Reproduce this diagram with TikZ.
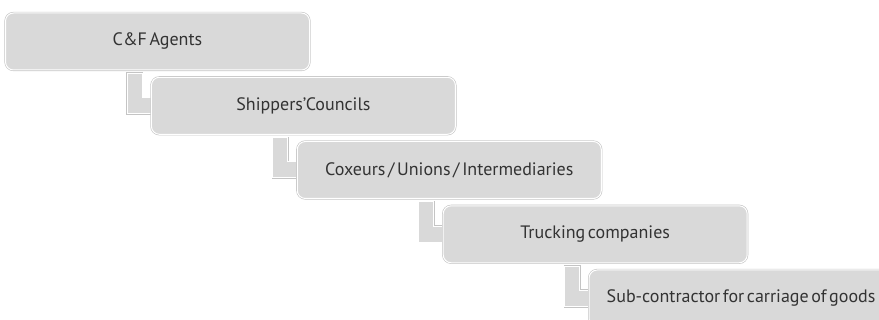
\documentclass[tikz,border=0pt]{standalone}
\usepackage{fontspec}
\setmainfont{PT Sans}[WordSpace=0.55]
\usetikzlibrary{calc,backgrounds}
\definecolor{boxfill}{HTML}{D9D9D9}
\definecolor{boxedge}{HTML}{C4C4C4}
\definecolor{txt}{HTML}{333333}
\tikzset{
  stepbox/.style={rounded corners=8pt, fill=boxfill, draw=white, line width=1pt,
    preaction={draw=boxedge, line width=2.2pt},
    minimum width=304pt, minimum height=57pt, inner sep=0pt,
    text=txt, font=\fontsize{18}{20}\selectfont},
  conn/.style={fill=boxfill, draw=white, line width=1pt,
    preaction={draw=boxedge, line width=2.2pt}}
}
\begin{document}
\begin{tikzpicture}[x=1pt,y=-1pt]
\useasboundingbox (0,0) rectangle (879,320);
\clip (0,0) rectangle (879,320);
\node[stepbox] (a) at (157.5,41.5) {C\&F Agents};
\node[stepbox] (b) at (303.4,105.8) {Shippers'Councils};
\node[stepbox] (c) at (449.3,170) {Coxeurs / Unions / Intermediaries};
\node[stepbox] (d) at (595.2,234.3) {Trucking companies};
\node[stepbox] (e) at (741.1,298.5) {Sub-contractor for carriage of goods};
\begin{scope}[on background layer]
\foreach \u/\v in {a/b,b/c,c/d,d/e}{
  \path[conn] let \p1=(\u.south west), \p2=(\v.west) in
    (\x1+122,\y1-3) -- (\x1+122,\y2-8) -- (\x2+3,\y2-8) -- (\x2+3,\y2+8)
    -- (\x1+137,\y2+8) -- (\x1+137,\y1-3) -- cycle;
}
\end{scope}
\end{tikzpicture}
\end{document}
